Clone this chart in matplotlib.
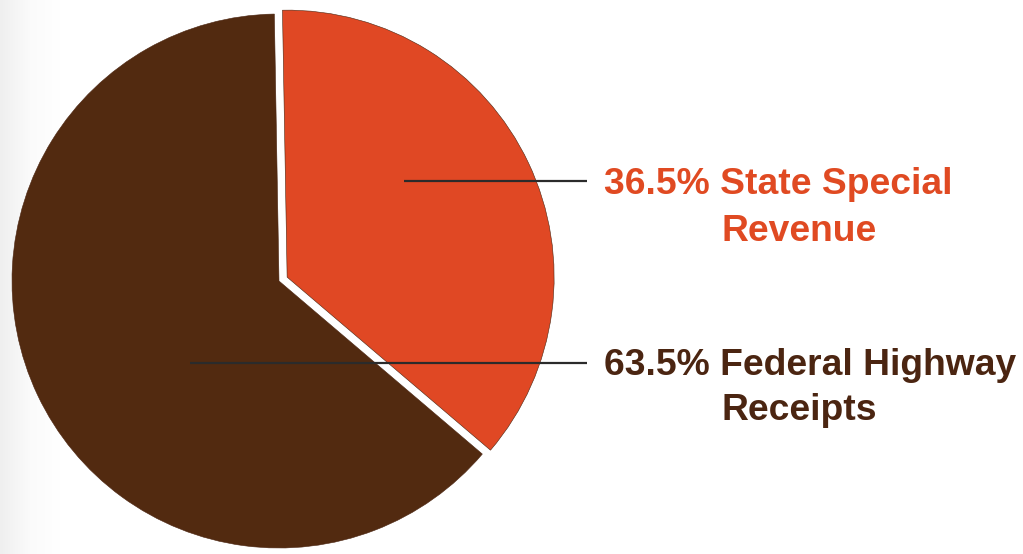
import numpy as np
import matplotlib
matplotlib.use("Agg")
import matplotlib.pyplot as plt
from matplotlib.colors import LinearSegmentedColormap

# ------------------------------
# Data
# ------------------------------
labels = ["State Special\nRevenue", "Federal Highway\nReceipts"]
shares = [36.5, 63.5]
slice_colors = ["#E04824", "#522A10"]
text_colors = ["#E04A22", "#4B2511"]

# ------------------------------
# Figure in pixel units (y measured up from bottom)
# ------------------------------
W, H = 1023, 554
fig = plt.figure(figsize=(W / 100, H / 100), dpi=100)
ax = fig.add_axes([0, 0, 1, 1])

# faint grey shading along the left edge
shade = LinearSegmentedColormap.from_list("shade", ["#efefef", "#fbfbfb", "#ffffff"])
grad = np.linspace(0, 1, 256).reshape(1, -1)
ax.imshow(grad, cmap=shade, extent=[0, 60, 0, H], aspect="auto", zorder=0)

# ------------------------------
# Pie (explode offset is in data units here, i.e. pixels)
# ------------------------------
center = (279, 273)
radius = 267
ax.pie(shares, colors=slice_colors, startangle=91, counterclock=False,
       explode=[9, 0], center=center, radius=radius,
       wedgeprops=dict(linewidth=0.4, edgecolor="#4a2410"), frame=True)
ax.set_xlim(0, W)
ax.set_ylim(0, H)
ax.set_aspect("equal")
ax.axis("off")

# ------------------------------
# Leader lines and labels
# ------------------------------
line_y = [373, 191]
line_x0 = [404, 190]
line_x1 = 587
first_base = [360, 179]
second_base = [313, 134]

for i in range(len(shares)):
    ax.plot([line_x0[i], line_x1], [line_y[i], line_y[i]], color="#2b2b2b",
            lw=1.6, solid_capstyle="butt", zorder=5)
    top, bottom = labels[i].split("\n")
    ax.text(604, first_base[i], f"{shares[i]}% {top}", color=text_colors[i],
            fontsize=26.8, fontweight="bold", family="Liberation Sans",
            ha="left", va="baseline")
    ax.text(722, second_base[i], bottom, color=text_colors[i],
            fontsize=26.8, fontweight="bold", family="Liberation Sans",
            ha="left", va="baseline")

fig.savefig("out.png", dpi=100, facecolor="white")
